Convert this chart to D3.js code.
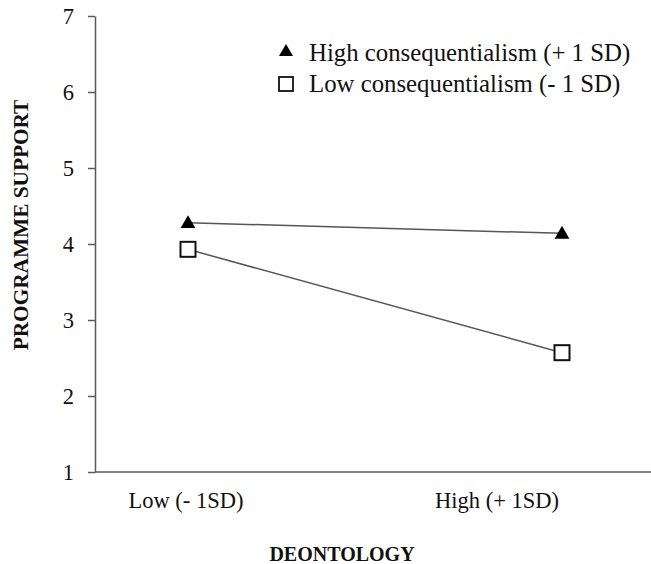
<!DOCTYPE html>
<html><head><meta charset="utf-8">
<script src="https://cdn.jsdelivr.net/npm/d3@7"></script>
<style>body{margin:0;background:#fff}svg{display:block}text{font-family:"Liberation Serif","Times New Roman",serif}</style>
</head><body>
<svg id="c" width="651" height="564"></svg>
<script>
const categories = ["Low (- 1SD)", "High (+ 1SD)"];
const seriesNames = ["High consequentialism (+ 1 SD)", "Low consequentialism (- 1 SD)"];
const highConseq = [4.28, 4.14];
const lowConseq = [3.93, 2.57];
const yTicks = [1, 2, 3, 4, 5, 6, 7];

const svg = d3.select("#c");
const x = d3.scalePoint().domain(categories).range([188, 562]);
const y = d3.scaleLinear().domain([1, 7]).range([472, 16]);
const axisColor = "#595959";

// y axis
const ya = svg.append("g").attr("transform", "translate(95,0)")
  .call(d3.axisLeft(y).tickValues(yTicks).tickSize(7).tickSizeOuter(0).tickPadding(14).tickFormat(d3.format("d")));
ya.select(".domain").attr("stroke", axisColor).attr("stroke-width", 1.5);
ya.selectAll(".tick line").attr("stroke", axisColor).attr("stroke-width", 1.5);
ya.selectAll(".tick text").attr("font-size", 22.5).attr("fill", "#111").attr("font-family", "Liberation Serif");

// x axis line
svg.append("line").attr("x1", 95).attr("x2", 651).attr("y1", y(1)).attr("y2", y(1))
  .attr("stroke", axisColor).attr("stroke-width", 1.5);

// x labels
const labelShift = [-2, -65];
categories.forEach((c, i) => {
  svg.append("text").attr("x", x(c) + labelShift[i]).attr("y", 508)
    .attr("text-anchor", "middle").attr("font-size", 22.5).attr("fill", "#111").text(c);
});

// axis titles
svg.append("text").attr("x", 342).attr("y", 561).attr("text-anchor", "middle")
  .attr("font-size", 20).attr("font-weight", "bold").attr("fill", "#111").text("DEONTOLOGY");
svg.append("text").attr("transform", "translate(28,225) rotate(-90)").attr("text-anchor", "middle")
  .attr("font-size", 21.3).attr("font-weight", "bold").attr("fill", "#111").text("PROGRAMME SUPPORT");

const line = d3.line().x((d, i) => x(categories[i])).y(d => y(d));
const lineColor = "#555";
svg.append("path").attr("d", line(highConseq)).attr("fill", "none").attr("stroke", lineColor).attr("stroke-width", 1.5);
svg.append("path").attr("d", line(lowConseq)).attr("fill", "none").attr("stroke", lineColor).attr("stroke-width", 1.5);

const tri = d3.symbol().type(d3.symbolTriangle).size(95);
highConseq.forEach((v, i) => {
  svg.append("path").attr("d", tri()).attr("transform", `translate(${x(categories[i])},${y(v) + 1})`).attr("fill", "#000");
});
lowConseq.forEach((v, i) => {
  svg.append("rect").attr("x", x(categories[i]) - 7.5).attr("y", y(v) - 7.5).attr("width", 15).attr("height", 15)
    .attr("fill", "#fff").attr("stroke", "#111").attr("stroke-width", 2);
});

// legend
const lg = svg.append("g");
lg.append("path").attr("d", d3.symbol().type(d3.symbolTriangle).size(85)()).attr("transform", "translate(286,52)").attr("fill", "#000");
lg.append("text").attr("x", 309).attr("y", 60.5).attr("font-size", 24.8).attr("fill", "#111").text(seriesNames[0]);
lg.append("rect").attr("x", 279).attr("y", 77).attr("width", 14).attr("height", 14).attr("fill", "#fff").attr("stroke", "#111").attr("stroke-width", 1.8);
lg.append("text").attr("x", 309).attr("y", 92).attr("font-size", 24.8).attr("fill", "#111").text(seriesNames[1]);
</script>
</body></html>
